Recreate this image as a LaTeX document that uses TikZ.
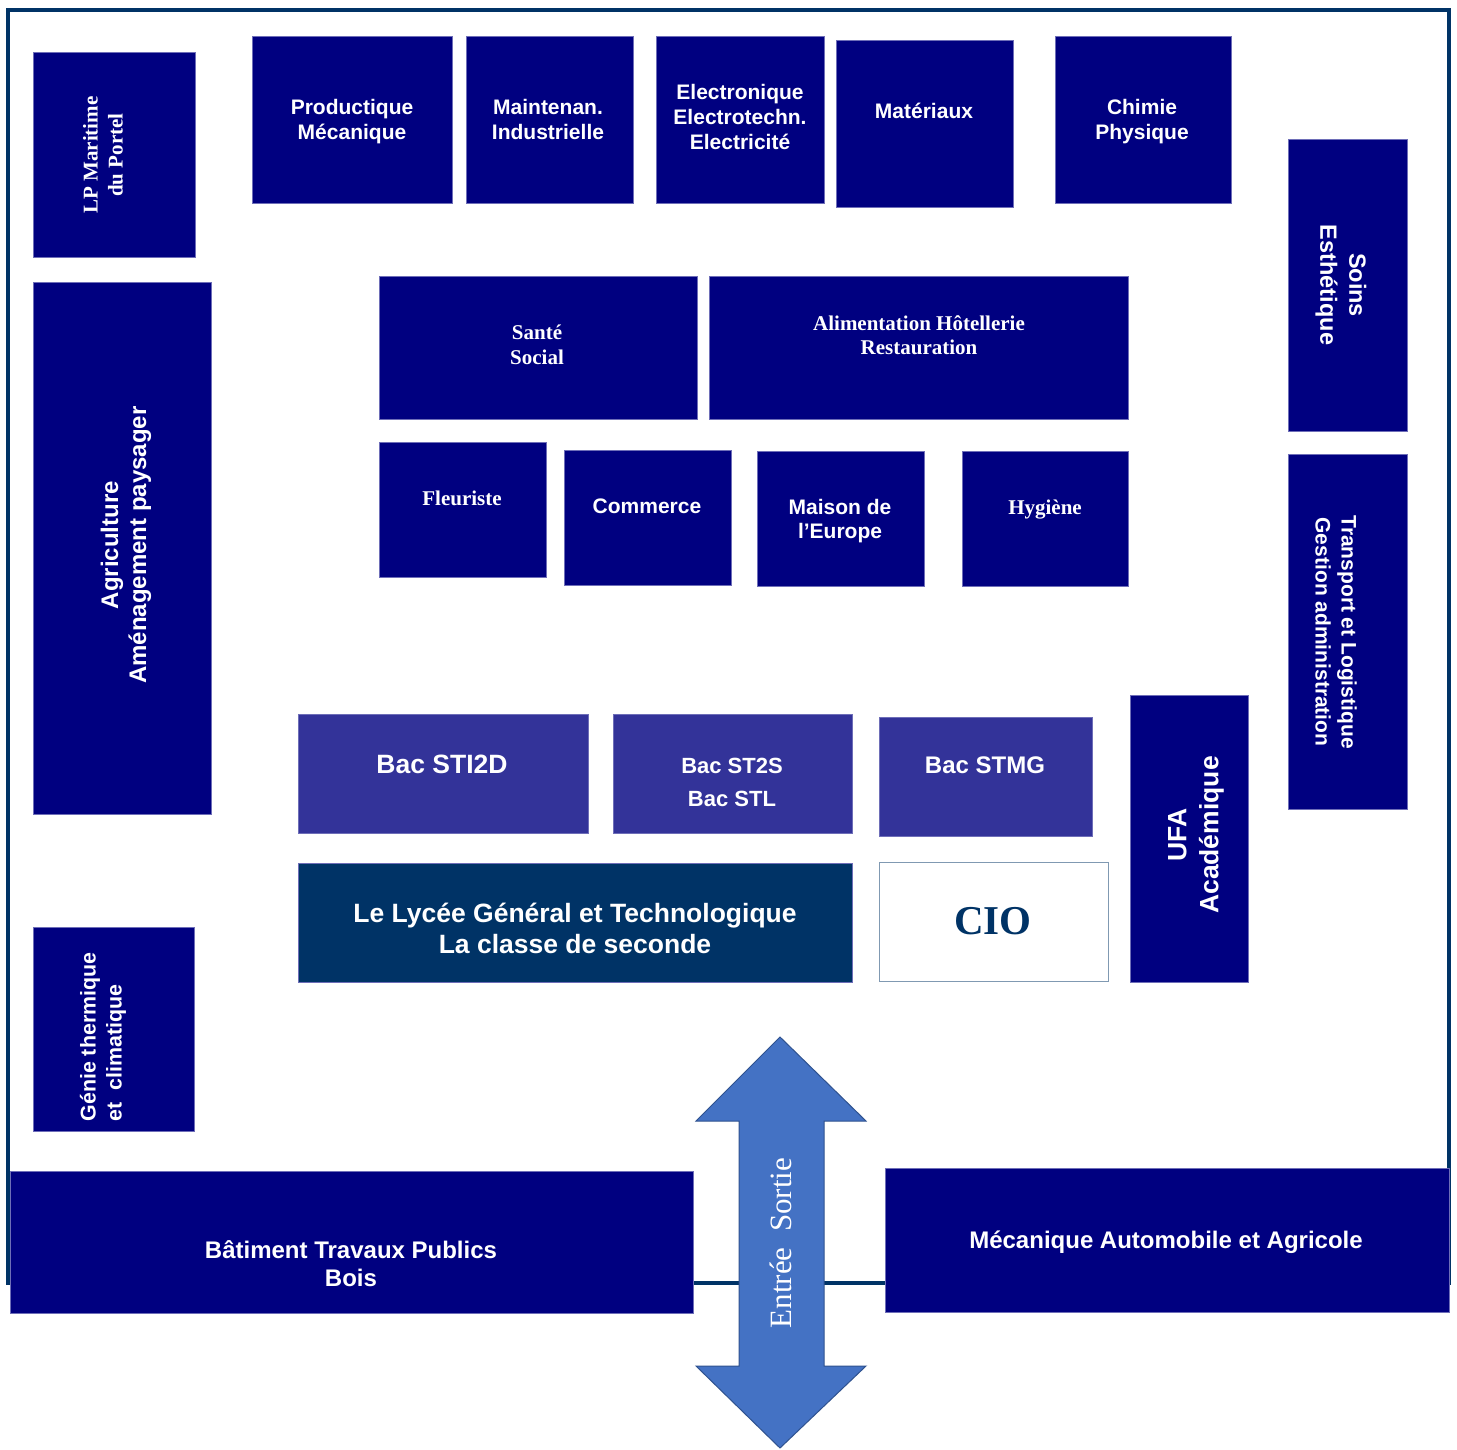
\documentclass[tikz,border=0pt]{standalone}
\usepackage{fontspec}
\setmainfont{Liberation Sans}
\newfontfamily\serf{Liberation Serif}
\definecolor{navy}{HTML}{000080}
\definecolor{bedge}{HTML}{6E6EB8}
\definecolor{bacc}{HTML}{333399}
\definecolor{darkb}{HTML}{003366}
\definecolor{arrowf}{HTML}{4472C4}
\definecolor{arrowd}{HTML}{2F528F}
\begin{document}
\begin{tikzpicture}[x=1pt,y=-1pt,
  bld/.style={fill=navy, draw=bedge, line width=0.8pt},
  bac/.style={fill=bacc, draw=bedge, line width=0.8pt},
  lyc/.style={fill=darkb, draw=bedge, line width=0.8pt},
  frame/.style={draw=darkb, line width=4pt},
  lbl/.style={text=white, font=\bfseries\fontsize{21}{25}\selectfont, align=center, inner sep=0pt},
  slbl/.style={text=white, font=\serf\bfseries\fontsize{21}{25}\selectfont, align=center, inner sep=0pt}]
\useasboundingbox (0,0) rectangle (1457,1450);
\fill[white] (0,0) rectangle (1457,1450);
% outer frame
\draw[frame] (8,10) rectangle (1449,1283);
% buildings
\draw[bld] (33,52) rectangle (195,257);
\draw[bld] (252,36) rectangle (452,203);
\draw[bld] (466,36) rectangle (633,203);
\draw[bld] (656,36) rectangle (824,203);
\draw[bld] (836,40) rectangle (1013,207);
\draw[bld] (1055,36) rectangle (1231,203);
\draw[bld] (1288,139) rectangle (1407,431);
\draw[bld] (33,282) rectangle (211,814);
\draw[bld] (379,276) rectangle (697,419);
\draw[bld] (709,276) rectangle (1128,419);
\draw[bld] (379,442) rectangle (546,577);
\draw[bld] (564,450) rectangle (731,585);
\draw[bld] (757,451) rectangle (924,586);
\draw[bld] (962,451) rectangle (1128,586);
\draw[bld] (1288,454) rectangle (1407,809);
\draw[bac] (298,714) rectangle (588,833);
\draw[bac] (613,714) rectangle (852,833);
\draw[bac] (879,717) rectangle (1092,836);
\draw[bld] (1130,695) rectangle (1248,982);
\draw[lyc] (298,863) rectangle (852,982);
\draw[draw=darkb!50, fill=white, line width=0.8pt] (879,862) rectangle (1108,981);
\draw[bld] (33,927) rectangle (194,1131);
\draw[bld] (10,1171) rectangle (693,1313);
\draw[bld] (885,1168) rectangle (1449,1312);
% entrance arrow
\draw[fill=arrowf, draw=arrowd, line width=1pt, line join=miter]
  (780,1037) -- (866,1121) -- (824,1121) -- (824,1366) -- (866,1366) -- (780,1448)
  -- (696,1366) -- (739,1366) -- (739,1121) -- (696,1121) -- cycle;
% labels
\node[slbl, rotate=90] (lp) at (103,155) {LP Maritime\\du Portel};
\node[lbl] (prod) at (352,122) {Productique\\Mécanique};
\node[lbl] (maint) at (548,119) {Maintenan.\\Industrielle};
\node[lbl] (elec) at (740,117) {Electronique\\Electrotechn.\\Electricité};
\node[lbl] (mat) at (924,111) {Matériaux};
\node[lbl] (chim) at (1142,122) {Chimie\\Physique};
\node[lbl, font=\bfseries\fontsize{23.5}{29}\selectfont, rotate=-90] (soins) at (1341,285) {Soins\\Esthétique};
\node[lbl, font=\bfseries\fontsize{24}{28}\selectfont, rotate=90] (agri) at (126,545) {Agriculture\\Aménagement paysager};
\node[slbl, font=\serf\bfseries\fontsize{21}{25}\selectfont] (sante) at (537,345) {Santé\\Social};
\node[slbl, font=\serf\bfseries\fontsize{21}{24}\selectfont] (alim) at (919,335) {Alimentation Hôtellerie\\Restauration};
\node[slbl] (fleur) at (462,498) {Fleuriste};
\node[lbl] (comm) at (647,506) {Commerce};
\node[lbl, font=\bfseries\fontsize{21}{24}\selectfont] (maison) at (840,521) {Maison de\\l’Europe};
\node[slbl] (hyg) at (1045,510) {Hygiène};
\node[lbl, font=\bfseries\fontsize{21}{26}\selectfont, rotate=-90] (transp) at (1336,632) {Transport et Logistique\\Gestion administration};
\node[lbl, font=\bfseries\fontsize{26.5}{31}\selectfont] (sti) at (442,764) {Bac STI2D};
\node[lbl, font=\bfseries\fontsize{22}{33}\selectfont] (st2s) at (732,782) {Bac ST2S\\Bac STL};
\node[lbl, font=\bfseries\fontsize{24}{28}\selectfont] (stmg) at (985,765) {Bac STMG};
\node[lbl, font=\bfseries\fontsize{26.5}{32}\selectfont, rotate=90] (ufa) at (1196,835) {UFA\\Académique};
\node[lbl, font=\bfseries\fontsize{26.5}{31}\selectfont] (lycee) at (575,928) {Le Lycée Général et Technologique\\La classe de seconde};
\node[text=darkb, font=\serf\bfseries\fontsize{41}{45}\selectfont, inner sep=0pt] (cio) at (993,921) {CIO};
\node[lbl, font=\bfseries\fontsize{21.4}{26}\selectfont, rotate=90, align=left] (genie) at (103,1037) {Génie thermique\\et~~climatique};
\node[lbl, font=\bfseries\fontsize{24}{28}\selectfont] (btp) at (351,1264) {Bâtiment Travaux Publics\\Bois};
\node[lbl, font=\bfseries\fontsize{24}{28}\selectfont] (meca) at (1166,1242) {Mécanique Automobile et Agricole};
\node[text=white, font=\serf\fontsize{31}{35}\selectfont, inner sep=0pt, rotate=90] (es) at (781,1243) {Entrée~~Sortie};
\end{tikzpicture}
\end{document}
